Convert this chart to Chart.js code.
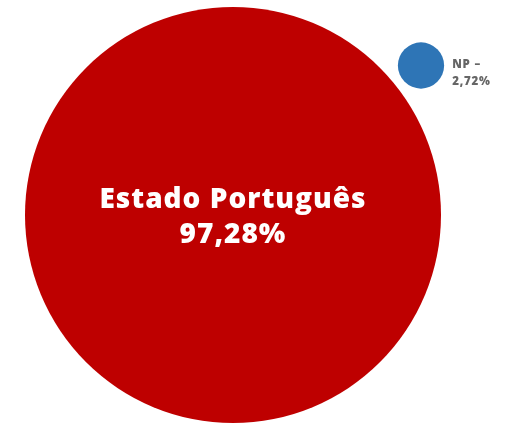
<!DOCTYPE html>
<html><head><meta charset="utf-8">
<script src="https://cdn.jsdelivr.net/npm/chart.js@4/dist/chart.umd.min.js"></script>
<style>html,body{margin:0;padding:0;background:#fff}#wrap{width:519px;height:430px}</style>
</head><body><div id="wrap"><canvas id="c" width="519" height="430"></canvas></div>
<script>
const categories = ["Estado Português", "NP"];
const shares = [97.28, 2.72];
const valueLabels = ["97,28%", "2,72%"];

const colors = ["#BE0000", "#2E75B6"];
// layout (canvas pixel units on hidden axes)
const centers = [[233, 215], [421, 65.5]];
const maxRadius = 208;
const maxShare = Math.max(...shares);
const radii = shares.map(v => maxRadius * Math.pow(v / maxShare, 0.614));

const labelPlugin = {
  id: 'labels',
  afterDatasetsDraw(chart) {
    const ctx = chart.ctx;
    const meta = chart.getDatasetMeta(0);
    const big = meta.data[0], small = meta.data[1];
    ctx.save();
    ctx.textAlign = 'center';
    ctx.textBaseline = 'alphabetic';
    ctx.fillStyle = '#ffffff';
    ctx.font = '800 28px "Open Sans"';
    ctx.letterSpacing = '1px';
    ctx.fillText(categories[0], big.x, big.y - 7);
    ctx.fillText(valueLabels[0], big.x, big.y + 28);
    ctx.textAlign = 'left';
    ctx.fillStyle = '#666666';
    ctx.font = '800 11.5px "Open Sans"';
    ctx.letterSpacing = '0.8px';
    const sx = small.x + radii[1] + 8;
    ctx.fillText(categories[1] + ' –', sx, small.y + 2.5);
    ctx.fillText(valueLabels[1], sx, small.y + 19.5);
    ctx.restore();
  }
};

new Chart(document.getElementById('c'), {
  type: 'bubble',
  data: {
    datasets: [{
      data: shares.map((v, i) => ({x: centers[i][0], y: centers[i][1], r: radii[i]})),
      backgroundColor: colors,
      borderWidth: 0,
      hoverRadius: 0,
      clip: false
    }]
  },
  options: {
    responsive: false,
    animation: false,
    events: [],
    layout: {padding: 0, autoPadding: false},
    plugins: {legend: {display: false}, tooltip: {enabled: false}},
    scales: {
      x: {type: 'linear', min: 0, max: 519, display: false},
      y: {type: 'linear', min: 0, max: 430, reverse: true, display: false}
    }
  },
  plugins: [labelPlugin]
});
</script></body></html>
